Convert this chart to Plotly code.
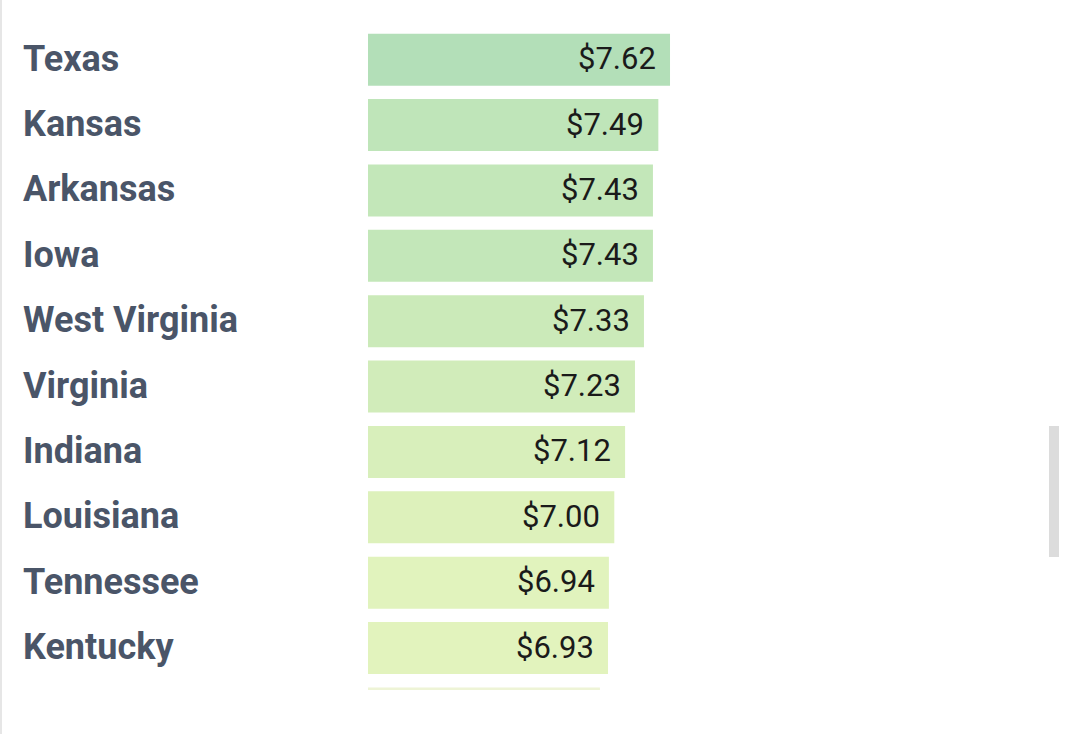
import plotly.graph_objects as go

states = ["Texas", "Kansas", "Arkansas", "Iowa", "West Virginia", "Virginia",
          "Indiana", "Louisiana", "Tennessee", "Kentucky", "Next"]
values = [7.62, 7.49, 7.43, 7.43, 7.33, 7.23, 7.12, 7.00, 6.94, 6.93, 6.84]
value_labels = ["$7.62", "$7.49", "$7.43", "$7.43", "$7.33", "$7.23",
                "$7.12", "$7.00", "$6.94", "$6.93", ""]
colors = ["#b3dfb8", "#bfe5b9", "#c3e7b9", "#c3e7b9", "#cbeab9", "#d1ecba",
          "#d8efbb", "#ddf1bb", "#e1f3bd", "#e2f3bd", "#eef4d6"]

W, H = 1080, 734
ml, mr, mt, mb = 368, 40, 27, 44
pw = W - ml - mr
ph = H - mt - mb

fig = go.Figure()
fig.add_trace(go.Bar(
    x=values, y=list(range(len(states))), orientation="h",
    marker=dict(color=colors, line=dict(width=0)),
    hoverinfo="skip",
))

annotations = []
for i, (s, v, t) in enumerate(zip(states[:10], values[:10], value_labels[:10])):
    annotations.append(dict(
        x=(21 - ml) / pw, xref="paper", y=i, yref="y", yshift=1,
        text=s, showarrow=False, xanchor="left", yanchor="middle",
        font=dict(family="Roboto", size=36, color="#4a5568", weight="bold"),
    ))
    annotations.append(dict(
        x=v, xref="x", y=i, yref="y", text=t, showarrow=False,
        xanchor="right", yanchor="middle", xshift=-12, yshift=1,
        font=dict(family="Roboto", size=31, color="#1a1a1a"),
    ))

shapes = [
    dict(type="rect", xref="paper", yref="paper",
         x0=(0 - ml) / pw, x1=(2 - ml) / pw,
         y0=-mb / ph, y1=(H - mb) / ph,
         fillcolor="#e6e6e6", line=dict(width=0), layer="below"),
    dict(type="rect", xref="paper", yref="paper",
         x0=(1049 - ml) / pw, x1=(1059 - ml) / pw,
         y0=(H - mb - 557) / ph, y1=(H - mb - 426) / ph,
         fillcolor="#dcdcdc", line=dict(width=0)),
]

fig.update_layout(
    width=W, height=H,
    margin=dict(l=ml, r=mr, t=mt, b=mb, pad=0),
    paper_bgcolor="white", plot_bgcolor="white",
    bargap=0.205, showlegend=False,
    xaxis=dict(range=[4.259, 4.259 + pw / 89.86], visible=False, fixedrange=True),
    yaxis=dict(range=[(H - mb - 59.5) / 65.4, -0.5], visible=False, fixedrange=True),
    annotations=annotations, shapes=shapes,
)

fig.write_html("out.html", config={"displayModeBar": False},
               post_script="document.body.style.margin='0';document.body.style.overflow='hidden';")
